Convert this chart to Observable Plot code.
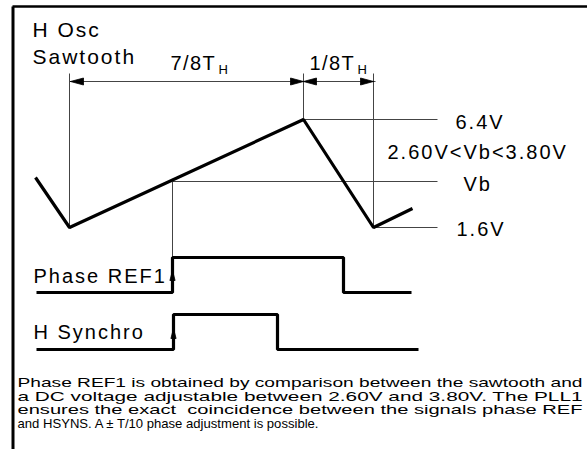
<!DOCTYPE html>
<html>
<head>
<meta charset="utf-8">
<script src="https://cdn.jsdelivr.net/npm/d3@7"></script>
<script src="https://cdn.jsdelivr.net/npm/@observablehq/plot@0.6"></script>
<style>
  html, body { margin: 0; padding: 0; background: white; }
</style>
</head>
<body>
<div id="chart"></div>
<script>
// ---- Diagram data (in diagram units) ----
// Sawtooth of the H oscillator
const sawX = [35, 69, 303, 373, 412];
const sawY = [177, 227, 119, 227, 208];
// Phase REF1 square wave
const ref1X = [36, 172, 172, 343, 343, 411];
const ref1Y = [292, 292, 257, 257, 292, 292];
// H Synchro square wave
const syncX = [36, 173, 173, 277, 277, 418];
const syncY = [349, 349, 314, 314, 349, 349];

// Thin guide lines (6.4V, Vb, 1.6V levels, dimension line, verticals)
const guideX1 = [303, 172, 373, 69, 69, 303, 373, 172];
const guideY1 = [119, 181, 227, 81, 73, 73, 73, 181];
const guideX2 = [437, 437, 437, 375, 69, 303, 373, 172];
const guideY2 = [119, 181, 227, 81, 227, 119, 227, 257];

// Dimension arrows: tip position and pointing direction (+1 right, -1 left)
const dimArrowX = [70, 303, 303, 373];
const dimArrowY = [81, 81, 81, 81];
const dimArrowDir = [-1, 1, -1, 1];
// Rising-edge arrows (pointing up): tip position
const edgeArrowX = [172, 173];
const edgeArrowY = [270, 328];

// Frame
const frameX1 = [12.5, 12];
const frameY1 = [6, 6];
const frameX2 = [12.5, 587];
const frameY2 = [449, 6];
const frameW = [3, 2.5];

// Labels
const labelText = ["H Osc", "Sawtooth", "7/8T", "1/8T", "6.4V", "2.60V<Vb<3.80V", "Vb", "1.6V", "Phase REF1", "H Synchro"];
const labelX = [32, 32, 170, 309, 455, 387, 463, 456, 33, 33];
const labelY = [36, 63, 69, 69, 128, 158, 190, 235, 282, 338];
const subText = ["H", "H"];
const subX = [218, 357];
const subY = [73, 73];

// Caption paragraph
const paraLines = [
  "Phase REF1 is obtained by comparison between the sawtooth and",
  "a DC voltage adjustable between 2.60V and 3.80V. The PLL1",
  "ensures the exact  coincidence between the signals phase REF",
  "and HSYNS. A \u00B1 T/10 phase adjustment is possible."
];
const paraLineWidth = [565, 565, 565, 301];
const paraY = [386, 400, 413, 427];
const paraX = 17;

// ---- Build tables ----
const line = (xs, ys) => xs.map((x, i) => ({x, y: ys[i]}));
const saw = line(sawX, sawY);
const ref1 = line(ref1X, ref1Y);
const sync = line(syncX, syncY);
const guides = guideX1.map((x1, i) => ({x1, y1: guideY1[i], x2: guideX2[i], y2: guideY2[i]}));
const frame = frameX1.map((x1, i) => ({x1, y1: frameY1[i], x2: frameX2[i], y2: frameY2[i], w: frameW[i]}));

const DIM_LEN = 13, DIM_HW = 3.5, EDGE_LEN = 10, EDGE_HW = 2.6;
const arrowPolys = [];
dimArrowX.forEach((x, i) => {
  const y = dimArrowY[i], d = dimArrowDir[i];
  arrowPolys.push({id: "d" + i, x, y}, {id: "d" + i, x: x - d * DIM_LEN, y: y - DIM_HW},
                  {id: "d" + i, x: x - d * DIM_LEN, y: y + DIM_HW}, {id: "d" + i, x, y});
});
edgeArrowX.forEach((x, i) => {
  const y = edgeArrowY[i];
  arrowPolys.push({id: "e" + i, x, y}, {id: "e" + i, x: x - EDGE_HW, y: y + EDGE_LEN},
                  {id: "e" + i, x: x + EDGE_HW, y: y + EDGE_LEN}, {id: "e" + i, x, y});
});

const labels = labelText.map((t, i) => ({t, x: labelX[i], y: labelY[i]}));
const subs = subText.map((t, i) => ({t, x: subX[i], y: subY[i]}));
const para = paraLines.map((t, i) => ({t, y: paraY[i]}));

const FONT = "Liberation Sans, Arial, Helvetica, sans-serif";

const svg = Plot.plot({
  width: 587,
  height: 449,
  margin: 0,
  x: {type: "linear", domain: [0, 587], range: [0, 587], axis: null},
  y: {type: "linear", domain: [0, 449], range: [0, 449], axis: null},
  style: {background: "white", color: "black", fontFamily: FONT},
  marks: [
    Plot.link(frame, {x1: "x1", y1: "y1", x2: "x2", y2: "y2", stroke: "black", strokeWidth: "w", strokeLinecap: "butt"}),
    Plot.link(guides, {x1: "x1", y1: "y1", x2: "x2", y2: "y2", stroke: "#444", strokeWidth: 1}),
    Plot.line(saw, {x: "x", y: "y", stroke: "black", strokeWidth: 3.2, strokeLinejoin: "miter", strokeLinecap: "butt", curve: "linear"}),
    Plot.line(ref1, {x: "x", y: "y", stroke: "black", strokeWidth: 3.2, strokeLinejoin: "miter", strokeLinecap: "butt", curve: "linear"}),
    Plot.line(sync, {x: "x", y: "y", stroke: "black", strokeWidth: 3.2, strokeLinejoin: "miter", strokeLinecap: "butt", curve: "linear"}),
    Plot.line(arrowPolys, {x: "x", y: "y", z: "id", fill: "black", stroke: "black", strokeWidth: 0.8, curve: "linear"}),
    Plot.text(labels, {x: "x", y: "y", text: "t", textAnchor: "start", lineAnchor: "bottom", fontSize: 20, fill: "black"}),
    Plot.text(subs, {x: "x", y: "y", text: "t", textAnchor: "start", lineAnchor: "bottom", fontSize: 13, fill: "black"}),
    Plot.text(para, {x: paraX, y: "y", text: "t", textAnchor: "start", lineAnchor: "bottom", fontSize: 13.6, fill: "black"})
  ]
});

const labelSet = new Set(labelText);
d3.select(svg).selectAll("text").each(function() {
  const s = this.textContent;
  if (labelSet.has(s)) {
    this.style.letterSpacing = (s === "7/8T" || s === "1/8T") ? "1.4px" : "2px";
    if (s === "H Osc" || s === "Sawtooth") this.style.fontSize = "21px";
  } else {
    const k = paraLines.indexOf(s);
    if (k >= 0) {
      this.setAttribute("textLength", paraLineWidth[k]);
      this.setAttribute("lengthAdjust", "spacingAndGlyphs");
    }
  }
});

document.getElementById("chart").appendChild(svg);
</script>
</body>
</html>
